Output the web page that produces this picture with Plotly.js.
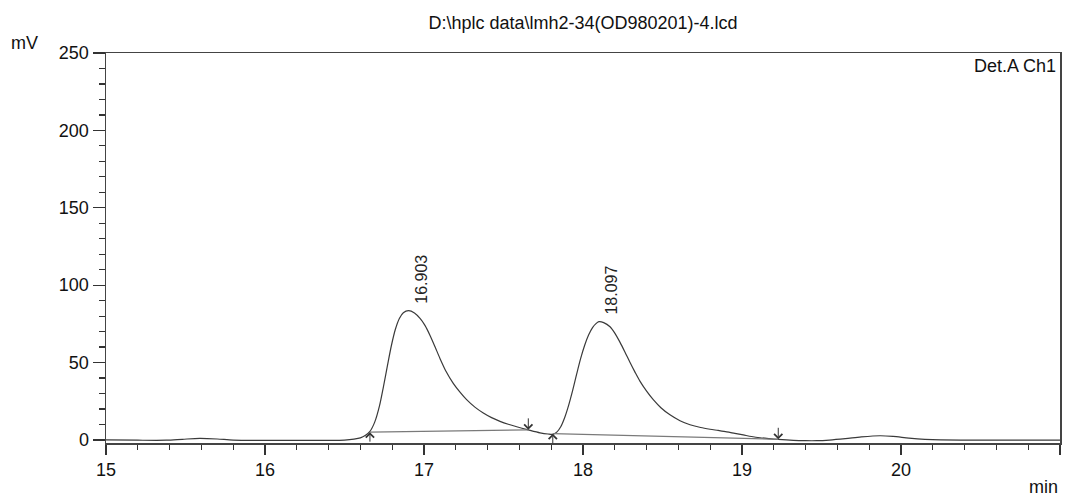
<!DOCTYPE html>
<html>
<head>
<meta charset="utf-8">
<script src="https://cdn.plot.ly/plotly-3.0.1.min.js"></script>
<style>
html,body{margin:0;padding:0;background:#fff;}
#chart{width:1065px;height:497px;}
</style>
</head>
<body>
<div id="chart"></div>
<script>
// Chromatogram signal (time in min, signal in mV)
const timeMin = [15.00,15.20,15.38,15.48,15.59,15.70,15.80,16.00,16.20,16.40,16.50,16.56,16.60,16.63,16.66,16.69,16.72,16.745,16.77,16.795,16.82,16.845,16.87,16.903,16.94,16.975,17.006,17.038,17.07,17.101,17.14,17.184,17.225,17.268,17.32,17.373,17.425,17.478,17.53,17.583,17.656,17.73,17.78,17.81,17.835,17.86,17.885,17.91,17.935,17.96,17.985,18.01,18.035,18.06,18.08,18.10,18.13,18.17,18.20,18.233,18.265,18.296,18.327,18.358,18.40,18.442,18.49,18.547,18.61,18.673,18.74,18.799,18.85,18.904,18.955,19.008,19.06,19.113,19.17,19.228,19.323,19.40,19.47,19.55,19.65,19.75,19.868,19.95,20.05,20.15,20.25,20.50,20.75,21.00];
const signalMV = [0.0,-0.2,-0.2,0.4,1.0,0.6,-0.1,-0.3,-0.3,-0.3,-0.1,0.5,1.3,2.8,5.5,11.5,22.0,34.5,48.0,61.0,71.5,78.5,82.2,83.5,82.0,78.5,74.0,67.5,60.0,52.5,44.0,36.5,31.0,26.0,21.2,17.4,14.4,12.0,10.1,8.5,6.5,4.6,3.8,3.6,5.0,8.5,14.5,22.5,32.0,42.5,52.5,61.0,67.8,72.6,75.0,76.4,75.8,73.1,69.0,63.0,56.5,50.0,43.8,38.0,31.5,26.0,20.8,16.2,12.4,9.8,8.0,6.9,6.1,5.2,4.2,3.2,2.2,1.4,0.8,0.3,-0.3,-0.5,-0.5,-0.1,0.8,1.9,2.7,2.3,1.2,0.4,0.0,-0.1,-0.1,-0.1];

// Peaks
const peakRT = [16.903, 18.097];
const peakHeight = [83.5, 76.4];
// Integration baselines
const peakStartTime = [16.66, 17.81];
const peakStartLevel = [5.0, 4.0];
const peakEndTime = [17.656, 19.228];
const peakEndLevel = [6.5, 0.4];

const titleText = 'D:\\hplc data\\lmh2-34(OD980201)-4.lcd';
const yTickVals = [0, 50, 100, 150, 200, 250];
const xTickVals = [15, 16, 17, 18, 19, 20, 21];

const FONT = 'Arial, "Liberation Sans", sans-serif';
const traces = [{
  x: timeMin, y: signalMV, type: 'scatter', mode: 'lines',
  line: {color: '#3a3a3a', width: 1.2, shape: 'spline', smoothing: 0.8},
  hoverinfo: 'skip', showlegend: false
}];
for (let i = 0; i < peakStartTime.length; i++) {
  traces.push({
    x: [peakStartTime[i], peakEndTime[i]], y: [peakStartLevel[i], peakEndLevel[i]],
    type: 'scatter', mode: 'lines', line: {color: '#7a7a7a', width: 1.2},
    hoverinfo: 'skip', showlegend: false
  });
}

const annotations = [];
for (let i = 0; i < peakRT.length; i++) {
  annotations.push({
    x: peakRT[i], y: peakHeight[i], xref: 'x', yref: 'y',
    text: peakRT[i].toFixed(3), textangle: -90, showarrow: false,
    xanchor: 'center', yanchor: 'bottom', xshift: 13, yshift: 5,
    font: {family: FONT, size: 16, color: '#222'}
  });
}
for (let i = 0; i < peakStartTime.length; i++) {
  annotations.push({
    x: peakStartTime[i], y: peakStartLevel[i], xref: 'x', yref: 'y', text: '',
    showarrow: true, arrowhead: 4, arrowsize: 1.6, arrowwidth: 1, arrowcolor: '#333',
    ax: 0, ay: 11
  });
  annotations.push({
    x: peakEndTime[i], y: peakEndLevel[i], xref: 'x', yref: 'y', text: '',
    showarrow: true, arrowhead: 4, arrowsize: 1.6, arrowwidth: 1, arrowcolor: '#333',
    ax: 0, ay: -13
  });
}
annotations.push({
  xref: 'paper', yref: 'paper', x: 1, y: 1, xanchor: 'right', yanchor: 'top',
  yshift: -1, xshift: -2, text: 'Det.A Ch1', showarrow: false,
  font: {family: FONT, size: 18, color: '#111'}
});
annotations.push({
  xref: 'paper', yref: 'paper', x: 0, y: 1, xanchor: 'center', yanchor: 'middle',
  xshift: -82, yshift: 10, text: 'mV', showarrow: false,
  font: {family: FONT, size: 18, color: '#111'}
});
annotations.push({
  xref: 'paper', yref: 'paper', x: 1, y: 0, xanchor: 'right', yanchor: 'middle',
  yshift: -44, text: 'min', showarrow: false,
  font: {family: FONT, size: 18, color: '#111'}
});

const layout = {
  width: 1065, height: 497,
  margin: {l: 106, r: 5, t: 53, b: 54},
  paper_bgcolor: '#fff', plot_bgcolor: '#fff',
  title: {text: titleText, x: 0.5, xref: 'paper', y: 0.955, yanchor: 'middle',
          font: {family: FONT, size: 18, color: '#111'}},
  font: {family: FONT, size: 18, color: '#111'},
  xaxis: {
    range: [15, 21], tickvals: xTickVals, ticks: 'outside', ticklen: 10, tickwidth: 1.2,
    tickcolor: '#333', showline: true, linecolor: '#444', linewidth: 1.5, mirror: true,
    showgrid: false, zeroline: false,
    minor: {dtick: 0.2, ticks: 'outside', ticklen: 5, tickcolor: '#333', showgrid: false},
    tickfont: {family: FONT, size: 18, color: '#111'}
  },
  yaxis: {
    range: [-2, 250], tickvals: yTickVals, ticks: 'outside', ticklen: 12, tickwidth: 1.2,
    tickcolor: '#333', showline: true, linecolor: '#444', linewidth: 1.5, mirror: true,
    showgrid: false, zeroline: false,
    minor: {dtick: 10, ticks: 'outside', ticklen: 6, tickcolor: '#333', showgrid: false},
    tickfont: {family: FONT, size: 18, color: '#111'}
  },
  annotations: annotations
};
Plotly.newPlot('chart', traces, layout, {displayModeBar: false, staticPlot: true});
</script>
</body>
</html>
